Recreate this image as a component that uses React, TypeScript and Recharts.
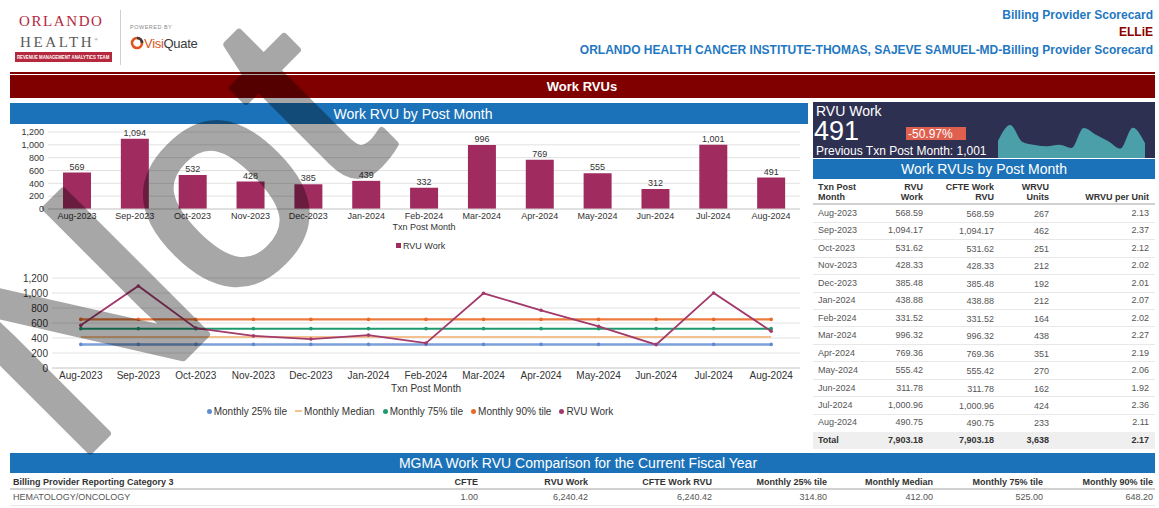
import React from "react";
import {
  BarChart, Bar, XAxis, YAxis, CartesianGrid, LabelList,
  LineChart, Line, AreaChart, Area
} from "recharts";

const W = 1159;
const H = 508;
const FONT = '"Liberation Sans", Arial, Helvetica, sans-serif';
const BLUE = "#1c72b8";
const MAROON = "#800000";
const BAR = "#a02b5f";

// data
const months = [
  "Aug-2023", "Sep-2023", "Oct-2023", "Nov-2023", "Dec-2023", "Jan-2024", "Feb-2024",
  "Mar-2024", "Apr-2024", "May-2024", "Jun-2024", "Jul-2024", "Aug-2024",
];
const rvuWork = [568.59, 1094.17, 531.62, 428.33, 385.48, 438.88, 331.52, 996.32, 769.36, 555.42, 311.78, 1000.96, 490.75];
const cfteWorkRvu = [568.59, 1094.17, 531.62, 428.33, 385.48, 438.88, 331.52, 996.32, 769.36, 555.42, 311.78, 1000.96, 490.75];
const wrvuUnits = [267, 462, 251, 212, 192, 212, 164, 438, 351, 270, 162, 424, 233];
const wrvuPerUnit = [2.13, 2.37, 2.12, 2.02, 2.01, 2.07, 2.02, 2.27, 2.19, 2.06, 1.92, 2.36, 2.11];
const totals = { rvu: 7903.18, cfte: 7903.18, units: 3638, perUnit: 2.17 };

const p25Line = [314.8, 314.8, 314.8, 314.8, 314.8, 314.8, 314.8, 314.8, 314.8, 314.8, 314.8, 314.8, 314.8];
const medianLine = [412, 412, 412, 412, 412, 412, 412, 412, 412, 412, 412, 412, 412];
const p75Line = [525, 525, 525, 525, 525, 525, 525, 525, 525, 525, 525, 525, 525];
const p90Line = [648.2, 648.2, 648.2, 648.2, 648.2, 648.2, 648.2, 648.2, 648.2, 648.2, 648.2, 648.2, 648.2];

const yTicks = [0, 200, 400, 600, 800, 1000, 1200];

const mgmaHeaders = ["CFTE", "RVU Work", "CFTE Work RVU", "Monthly 25% tile", "Monthly Median", "Monthly 75% tile", "Monthly 90% tile"];
const mgmaValues = ["1.00", "6,240.42", "6,240.42", "314.80", "412.00", "525.00", "648.20"];
const mgmaRight = [478, 588, 712, 827, 933, 1043, 1153];

const fmt0 = (v: number) => Math.round(v).toLocaleString("en-US");
const fmt2 = (v: number) => v.toLocaleString("en-US", { minimumFractionDigits: 2, maximumFractionDigits: 2 });

const rows = months.map((m, i) => ({
  month: m, rvu: rvuWork[i], p25: p25Line[i], median: medianLine[i], p75: p75Line[i], p90: p90Line[i],
}));

// text placed by its vertical centre
function T({ x, y, s = 9, a = "l", b = false, c = "#333", ff, ls, children }: any) {
  const lh = Math.round(s * 1.3);
  const st: React.CSSProperties = {
    position: "absolute", top: y - lh / 2, height: lh, lineHeight: lh + "px", fontSize: s,
    fontWeight: b ? 700 : 400, color: c, whiteSpace: "nowrap", fontFamily: ff, letterSpacing: ls,
  };
  if (a === "l") st.left = x;
  else if (a === "r") st.right = W - x;
  else { st.left = x - 300; st.width = 600; st.textAlign = "center"; }
  return <div style={st}>{children}</div>;
}

function Box({ x, y, w, h, bg }: any) {
  return <div style={{ position: "absolute", left: x, top: y, width: w, height: h, background: bg }} />;
}

const axisTick = (s: number) => ({ fontSize: s, fill: "#333" });

function LegendItem({ color, label, dash }: { color: string; label: string; dash?: boolean }) {
  return (
    <div style={{ display: "flex", alignItems: "center", marginRight: 8 }}>
      {dash
        ? <span style={{ width: 7, height: 2, background: color, marginRight: 2 }} />
        : <span style={{ width: 5, height: 5, borderRadius: 3, background: color, marginRight: 2 }} />}
      <span>{label}</span>
    </div>
  );
}

export default function App() {
  const tblRowY = (i: number) => 213 + i * 17.45;
  return (
    <div style={{ position: "relative", width: W, height: H, overflow: "hidden", background: "#fff", fontFamily: FONT }}>
      <style>{"body{margin:0}"}</style>

      {/* logo */}
      <T x={19} y={21} s={15} c="#b5283e" ff='"Liberation Serif", serif' ls={1.6}>ORLANDO</T>
      <T x={20} y={40} s={15} c="#5a5a5a" ff='"Liberation Serif", serif' ls={2.6}>HEALTH<sup style={{ fontSize: 5 }}>®</sup></T>
      <Box x={15} y={52} w={97} h={10} bg="#b5283e" />
      <div style={{ position: "absolute", left: 15, top: 52, width: 97, height: 10, display: "flex", alignItems: "center", justifyContent: "center", overflow: "hidden" }}>
        <span style={{ fontSize: 6, fontWeight: 700, color: "#fff", whiteSpace: "nowrap", transform: "scale(0.72, 0.85)" }}>REVENUE MANAGEMENT ANALYTICS TEAM</span>
      </div>
      <Box x={120} y={10} w={1} h={55} bg="#cfcfcf" />
      <T x={130} y={27} s={5.5} c="#8a8a8a" ls={0.5}>POWERED BY</T>
      <svg style={{ position: "absolute", left: 130, top: 36 }} width={14} height={14}>
        <circle cx={7} cy={7} r={5} fill="none" stroke="#e0531f" strokeWidth={2.6} />
        <path d="M7 2 A5 5 0 0 1 12 7" fill="none" stroke="#3a3a3a" strokeWidth={2.6} />
      </svg>
      <T x={144} y={43} s={13} c="#3a3a3a" ls={-0.3}><span style={{ color: "#d9541e" }}>Visi</span>Quate</T>

      {/* titles */}
      <T x={1153} y={15} s={12} a="r" b c="#1f78c1">Billing Provider Scorecard</T>
      <T x={1153} y={32} s={12} a="r" b c="#8b0000">ELLiE</T>
      <T x={1153} y={50} s={12} a="r" b c="#1f78c1">ORLANDO HEALTH CANCER INSTITUTE-THOMAS, SAJEVE SAMUEL-MD-Billing Provider Scorecard</T>

      <Box x={10} y={72} w={1145} h={2} bg={MAROON} />
      <Box x={10} y={75} w={1145} h={23} bg={MAROON} />
      <T x={582} y={86.5} s={13} a="c" b c="#fff">Work RVUs</T>

      {/* bar chart panel */}
      <Box x={10} y={103} w={798} h={21} bg={BLUE} />
      <T x={413} y={113.5} s={14} a="c" c="#fff">Work RVU by Post Month</T>
      <div style={{ position: "absolute", left: 0, top: 125 }}>
        <BarChart width={810} height={105} data={rows} margin={{ top: 7, right: 10, left: 8, bottom: 0 }}>
          <CartesianGrid vertical={false} stroke="#e2e2e2" />
          <XAxis dataKey="month" interval={0} tickLine={false} axisLine={{ stroke: "#d0d0d0" }}
            tickSize={0} tickMargin={4} height={21} tick={axisTick(9)} />
          <YAxis domain={[0, 1200]} ticks={yTicks} interval={0} width={40} axisLine={false} tickLine={false}
            tickSize={0} tickMargin={4} tick={axisTick(9)} tickFormatter={fmt0} />
          <Bar dataKey="rvu" fill={BAR} barSize={28} isAnimationActive={false}>
            <LabelList dataKey="rvu" position="top" offset={3} formatter={(v: any) => fmt0(v)}
              style={{ fontSize: 9, fill: "#333" }} />
          </Bar>
        </BarChart>
      </div>
      <T x={424} y={227} s={9} a="c">Txn Post Month</T>
      <Box x={396} y={243} w={5} h={5} bg={BAR} />
      <T x={403} y={245.5} s={9}>RVU Work</T>

      {/* line chart */}
      <div style={{ position: "absolute", left: 0, top: 270 }}>
        <LineChart width={810} height={119} data={rows} margin={{ top: 8, right: 10, left: 8, bottom: 0 }}>
          <CartesianGrid vertical={false} stroke="#e2e2e2" />
          <XAxis dataKey="month" interval={0} tickLine={false} axisLine={{ stroke: "#d0d0d0" }}
            tickSize={0} tickMargin={4} height={21} tick={axisTick(10)} padding={{ left: 28.8, right: 28.8 }} />
          <YAxis domain={[0, 1200]} ticks={yTicks} interval={0} width={44} axisLine={false} tickLine={false}
            tickSize={0} tickMargin={4} tick={axisTick(10)} tickFormatter={fmt0} />
          <Line dataKey="p25" stroke="#7ba1d8" strokeWidth={2.5} dot={{ r: 1.8, fill: "#5f8bd0", stroke: "none" }} isAnimationActive={false} />
          <Line dataKey="median" stroke="#f5c08f" strokeWidth={2} dot={false} isAnimationActive={false} />
          <Line dataKey="p75" stroke="#1f9a6e" strokeWidth={2} dot={{ r: 1.8, fill: "#1f9a6e", stroke: "none" }} isAnimationActive={false} />
          <Line dataKey="p90" stroke="#ec7a3c" strokeWidth={2.2} dot={{ r: 1.8, fill: "#e86a28", stroke: "none" }} isAnimationActive={false} />
          <Line dataKey="rvu" stroke="#a23a6b" strokeWidth={1.8} dot={{ r: 1.8, fill: "#a23a6b", stroke: "none" }} isAnimationActive={false} />
        </LineChart>
      </div>
      <T x={426} y={388} s={10} a="c">Txn Post Month</T>
      <div style={{ position: "absolute", left: 0, width: 828, top: 404, height: 14, display: "flex", justifyContent: "center", alignItems: "center", fontSize: 10, color: "#333" }}>
        <LegendItem color="#5f8bd0" label="Monthly 25% tile" />
        <LegendItem color="#f5c08f" label="Monthly Median" dash />
        <LegendItem color="#1f9a6e" label="Monthly 75% tile" />
        <LegendItem color="#e86a28" label="Monthly 90% tile" />
        <LegendItem color="#a23a6b" label="RVU Work" />
      </div>

      {/* KPI box */}
      <Box x={813} y={102} w={342} h={56} bg="#2e3052" />
      <T x={816} y={110.5} s={14} c="#fff">RVU Work</T>
      <T x={814} y={131.5} s={27} c="#fff">491</T>
      <Box x={906} y={127} w={60} h={13} bg="#e0604f" />
      <T x={908} y={133.5} s={12} c="#fff">-50.97%</T>
      <T x={816} y={150.5} s={12} c="#fff">Previous Txn Post Month: 1,001</T>
      <div style={{ position: "absolute", left: 998, top: 125 }}>
        <AreaChart width={147} height={33} data={rows} margin={{ top: 0, right: 0, left: 0, bottom: 0 }}>
          <XAxis dataKey="month" hide />
          <YAxis hide domain={[0, "dataMax"]} />
          <Area type="monotone" dataKey="rvu" stroke="none" fill="#4b9fa9" fillOpacity={1} isAnimationActive={false} />
        </AreaChart>
      </div>

      {/* table: Work RVUs by Post Month */}
      <Box x={813} y={159} w={342} h={20} bg={BLUE} />
      <T x={984} y={169} s={14} a="c" c="#fff">Work RVUs by Post Month</T>
      <T x={818} y={187} b>Txn Post</T>
      <T x={818} y={197} b>Month</T>
      <T x={923} y={187} a="r" b>RVU</T>
      <T x={923} y={197} a="r" b>Work</T>
      <T x={994} y={187} a="r" b>CFTE Work</T>
      <T x={994} y={197} a="r" b>RVU</T>
      <T x={1049} y={187} a="r" b>WRVU</T>
      <T x={1049} y={197} a="r" b>Units</T>
      <T x={1149} y={197} a="r" b>WRVU per Unit</T>
      <Box x={813} y={203} w={342} h={2} bg="#d0d0d0" />
      {months.map((m, i) => (
        <React.Fragment key={m}>
          <T x={818} y={tblRowY(i)} c="#555">{m}</T>
          <T x={923} y={tblRowY(i)} a="r" c="#555">{fmt2(rvuWork[i])}</T>
          <T x={994} y={tblRowY(i) + 1} a="r" c="#555">{fmt2(cfteWorkRvu[i])}</T>
          <T x={1049} y={tblRowY(i) + 1} a="r" c="#555">{wrvuUnits[i]}</T>
          <T x={1149} y={tblRowY(i)} a="r" c="#555">{wrvuPerUnit[i].toFixed(2)}</T>
          {i < months.length - 1 && <Box x={813} y={Math.round(tblRowY(i) + 8.7)} w={342} h={1} bg="#e8e8e8" />}
        </React.Fragment>
      ))}
      <Box x={813} y={432} w={342} h={17} bg="#efefef" />
      <T x={818} y={440} b>Total</T>
      <T x={923} y={440} a="r" b>{fmt2(totals.rvu)}</T>
      <T x={994} y={440} a="r" b>{fmt2(totals.cfte)}</T>
      <T x={1049} y={440} a="r" b>{fmt0(totals.units)}</T>
      <T x={1149} y={440} a="r" b>{totals.perUnit.toFixed(2)}</T>

      {/* MGMA */}
      <Box x={10} y={453} w={1145} h={20} bg={BLUE} />
      <T x={578} y={463} s={14} a="c" c="#fff">MGMA Work RVU Comparison for the Current Fiscal Year</T>
      <T x={13} y={482} b>Billing Provider Reporting Category 3</T>
      {mgmaHeaders.map((h, i) => <T key={h} x={mgmaRight[i]} y={482} a="r" b>{h}</T>)}
      <Box x={10} y={488} w={1145} h={2} bg="#d0d0d0" />
      <T x={13} y={497} c="#555">HEMATOLOGY/ONCOLOGY</T>
      {mgmaValues.map((v, i) => <T key={i} x={mgmaRight[i]} y={497} a="r" c="#555">{v}</T>)}
      <Box x={10} y={505} w={1145} h={1} bg="#e8e8e8" />

      {/* watermark */}
      <svg style={{ position: "absolute", left: 0, top: 0, pointerEvents: "none" }} width={W} height={H}>
        <g opacity={0.34}>
          <text x={73} y={468} transform="rotate(-45 73 468)" fontSize={295} fill="#000" stroke="#000"
            strokeWidth={7} strokeLinejoin="round" fontFamily={FONT}>Not</text>
        </g>
      </svg>
    </div>
  );
}
